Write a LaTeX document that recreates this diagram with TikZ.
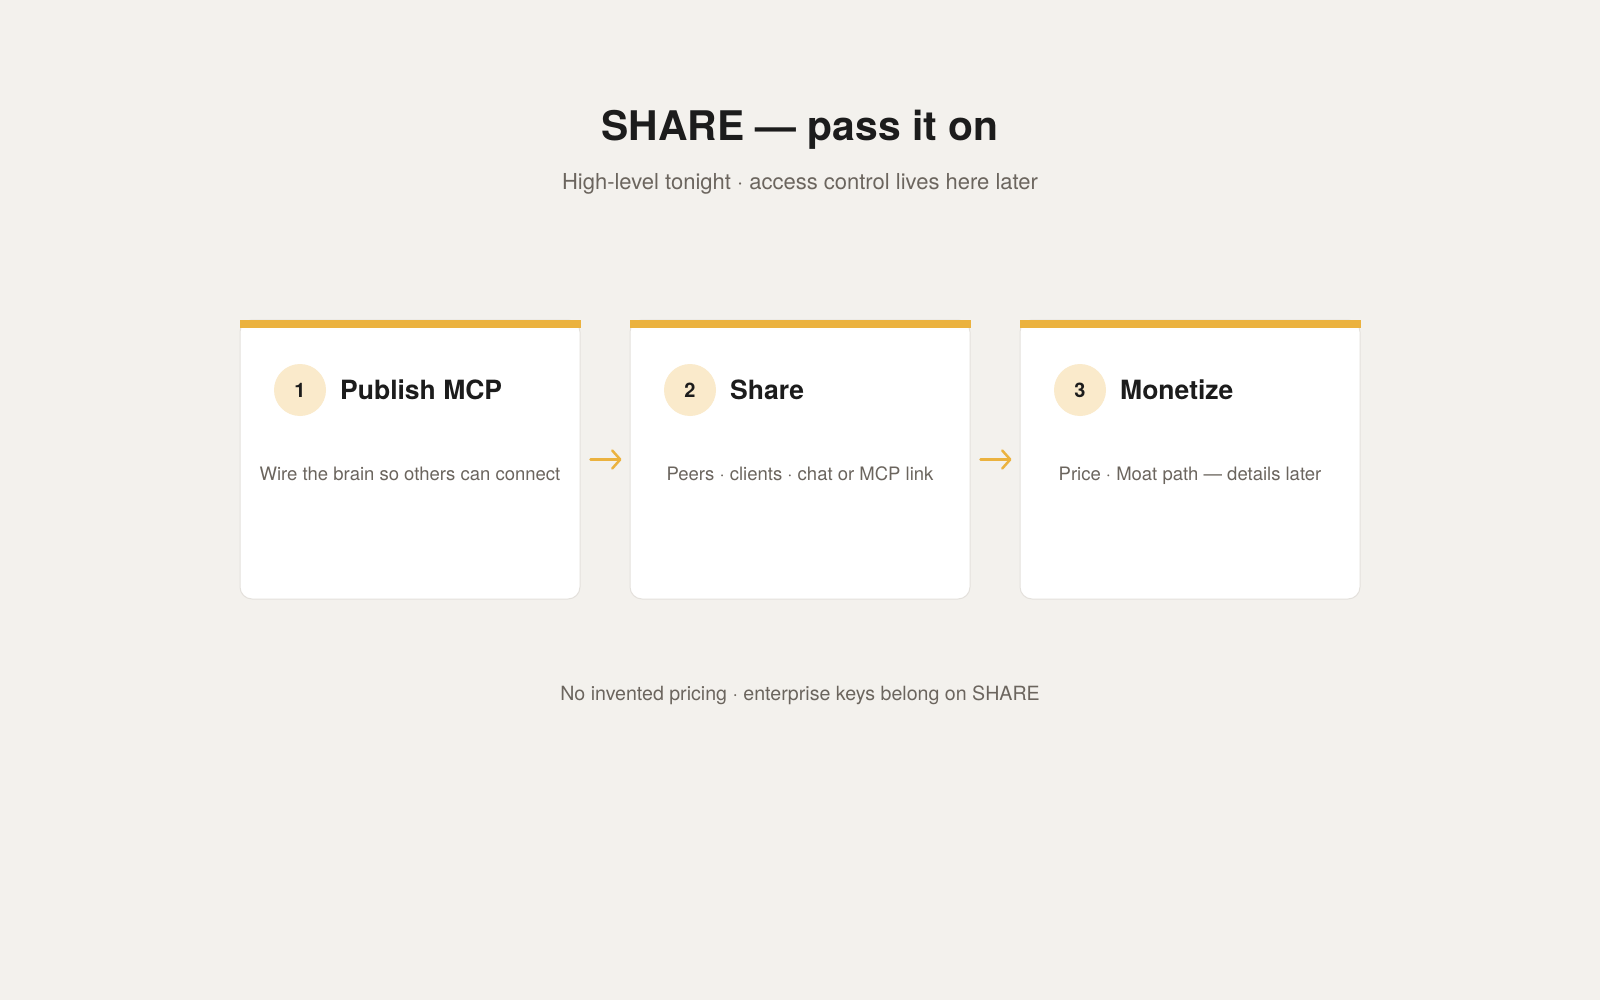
\documentclass[tikz,border=0pt]{standalone}
\usepackage{fontspec}
\setmainfont{TeX Gyre Heros}
\usetikzlibrary{arrows.meta}
\definecolor{bgcol}{HTML}{F3F1ED}
\definecolor{barcol}{HTML}{EBB23F}
\definecolor{circcol}{HTML}{FAEACB}
\definecolor{bordercol}{HTML}{E4E1DC}
\definecolor{darktext}{HTML}{1C1C1C}
\definecolor{graytext}{HTML}{6B655E}
\tikzset{
  card/.style={draw=bordercol, line width=1pt, fill=white, rounded corners=12pt,
    minimum width=340pt, minimum height=279pt, inner sep=0pt},
  numcirc/.style={circle, fill=circcol, minimum size=52pt, inner sep=0pt,
    text=darktext, font=\fontsize{20}{24}\selectfont\bfseries},
  cardtitle/.style={anchor=base west, inner sep=0pt, text=darktext,
    font=\fontsize{26.5}{30}\selectfont\bfseries},
  desc/.style={anchor=base, inner sep=0pt, text=graytext,
    font=\fontsize{18.5}{22}\selectfont},
  flowarrow/.style={draw=barcol, line width=2.5pt, line cap=round,
    -{Straight Barb[length=8pt,width=18pt,line cap=round,line join=round]},
    shorten <=10pt, shorten >=8pt},
}
\begin{document}
\begin{tikzpicture}[x=1pt,y=-1pt]
\fill[bgcol] (0,0) rectangle (1600,1000);
\useasboundingbox (0,0) rectangle (1600,1000);

\node[anchor=base, inner sep=0pt, text=darktext, font=\fontsize{40.8}{48}\selectfont\bfseries]
  (title) at (800,141) {SHARE — pass it on};
\node[anchor=base, inner sep=0pt, text=graytext, font=\fontsize{22}{26}\selectfont]
  (subtitle) at (800,190) {High-level tonight · access control lives here later};

% cards
\node[card] (c1) at (410,459.5) {};
\node[card] (c2) at (800,459.5) {};
\node[card] (c3) at (1190,459.5) {};
\foreach \c in {c1,c2,c3}{
  \fill[barcol] (\c.north west) rectangle ([yshift=-8pt]\c.north east);
}

% card contents
\node[numcirc] (n1) at (300,390) {1};
\node[numcirc] (n2) at (690,390) {2};
\node[numcirc] (n3) at (1080,390) {3};
\node[cardtitle] (t1) at (340,399) {Publish MCP};
\node[cardtitle] (t2) at (730,399) {Share};
\node[cardtitle] (t3) at (1120,399) {Monetize};
\node[desc] (d1) at (410,480) {Wire the brain so others can connect};
\node[desc] (d2) at (800,480) {Peers · clients · chat or MCP link};
\node[desc] (d3) at (1190,480) {Price · Moat path — details later};

% arrows
\draw[flowarrow] (c1.east) -- (c2.west);
\draw[flowarrow] (c2.east) -- (c3.west);

\node[anchor=base, inner sep=0pt, text=graytext, font=\fontsize{19.6}{24}\selectfont]
  (footer) at (800,700) {No invented pricing · enterprise keys belong on SHARE};
\end{tikzpicture}
\end{document}
